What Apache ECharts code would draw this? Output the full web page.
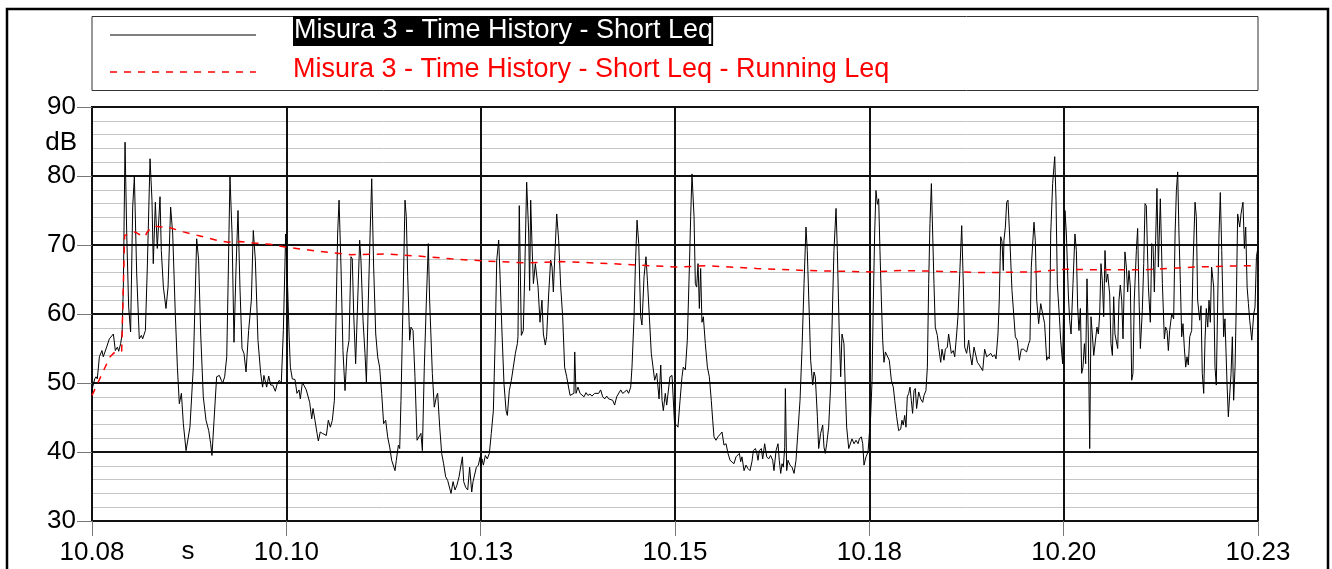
<!DOCTYPE html>
<html>
<head>
<meta charset="utf-8">
<title>Misura 3 - Time History</title>
<script src="https://cdn.jsdelivr.net/npm/echarts@6/dist/echarts.min.js"></script>
<style>
  html, body { margin: 0; padding: 0; background: #fff; }
  #chart { width: 1332px; height: 569px; }
</style>
</head>
<body>
<div id="chart"></div>
<script>
// x = seconds from the start of the record (10.08), y = dB
const timeLabels = ['10.08', '10.10', '10.13', '10.15', '10.18', '10.20', '10.23'];
const shortName = 'Misura 3 - Time History - Short Leq';
const runningName = 'Misura 3 - Time History - Short Leq - Running Leq';

const shortLeq = [
  [0,48.5],[0.5,49.4],[2.1,50.6],[3.1,50.9],[4.1,50.6],[5.7,53.8],[7.7,54.7],[8.7,53.8],[11.3,55.2],[13.4,56.4],[14.9,56.3],[16.5,57.1],[18,54.7],[19.6,55.2],[20.6,54.6],[22.1,55.7],[23.2,57.1],[24.2,63.9],[25.5,84.9],[26.8,71.6],[28.3,61],[29.8,57.4],[31.4,75.5],[32.7,79.9],[34.5,65.8],[36.5,56.4],[38.1,56.9],[39.1,56.4],[41.2,57.6],[42.7,66.8],[44.8,82.5],[46.3,76.5],[47.3,67.3],[48.9,76.2],[50.4,69.5],[52.5,77],[53.5,69.2],[55.1,63.9],[57.1,60.8],[58.7,63.9],[60.7,75.5],[62.3,71.6],[64.3,60],[65.9,52.3],[67.4,47],[69,48.5],[70.5,44.1],[72.6,40.2],[74.1,40.2],[75.6,43.6],[78.2,52.3],[80.8,70.9],[82.3,67.8],[83.9,57.1],[85.9,48],[88,44.6],[90.1,43.1],[91.6,41.2],[92.6,39.5],[94.2,44.6],[96.2,50.9],[98.3,51.1],[99.8,50.4],[100.9,50],[102.4,50.9],[104,53.8],[105,63.9],[106.5,79.9],[108.1,71.6],[109.6,55.9],[111.2,66.8],[112.7,75],[114.2,63.9],[115.8,55],[117.3,54.3],[118.9,51.6],[120.9,57.6],[123,62],[124.5,72.1],[126.1,67.8],[128.1,56.2],[130.2,51.4],[131.7,49.4],[132.7,51.1],[134.8,49.4],[136.4,51],[137.9,49.7],[139.5,49.7],[141.5,48.8],[143.1,50],[144.6,50.4],[146.1,49.9],[147.7,57.6],[149.5,71.6],
  [151,63.9],[152.1,57.1],[153.1,52.3],[154.6,50.6],[156.7,50.5],[158.2,48.5],[159.8,49],[160.8,47.7],[162.4,50.1],[163.9,49.9],[165.4,49],[166.5,48.8],[168,47.2],[169.6,44.8],[170.6,46.3],[172.1,44.6],[173.7,42.7],[174.7,41.6],[176.2,42.9],[177.8,42.7],[179.3,42.7],[180.9,42.4],[182.4,44.6],[184,43.6],[185.5,44.6],[187.1,47.5],[188.1,57.1],[189.6,71.6],[190.7,76.5],[192.2,66.8],[193.7,54.7],[195.3,48.9],[196.8,54.3],[198.4,56.2],[199.9,68.3],[200.9,68],[202,60],[203.5,52.8],[205.1,62],[206.6,70.7],[207.6,67.8],[209.2,59.1],[210.7,54.3],[211.8,50.1],[213.3,62],[214.8,72.6],[215.9,79.6],[217.4,66.8],[219,57.1],[220.5,53.8],[222,52.3],[223.6,48.5],[225.1,44.1],[226.7,44.6],[228.2,42.2],[229.8,40.7],[231.3,38.8],[233.9,37.3],[234.9,38.8],[236.5,41],[237.5,40.5],[238.5,47.5],[240.1,62],[241.6,76.5],[242.6,74.1],[243.7,65.4],[245.2,56.2],[246.2,58.1],[247.8,57.6],[249.3,50.9],[250.9,41.7],[252.4,41.6],[253.9,42.7],[255,40.2],[256.5,52.3],[258.1,62],[259.6,70.2],[260.6,62],[262.7,51.4],[264.2,46.5],[265.8,48],[266.8,48.5],[268.4,43.6],[269.9,39.8],[271.4,38.3],[273,36.4],[274.5,35.9],[275.6,36.1],[277.1,34],[278.7,35.7],[280.2,34.5],[281.7,35.2],[283.3,36.4],[284.8,36.6],[285.9,39.3],[286.9,35.7],[288.4,34.9],[290,34.5],[291.5,37.8],[293.1,34.2],[294.1,35.7],[295.1,35.9],[296.7,37.8],[298.2,38.1],[299.7,39.3],
  [300,37.8],[301,39],[302.1,38.1],[303.6,39.5],[305.1,39],[306.7,39.8],[308.2,42.7],[309.8,46],[311.3,57.1],[312.4,67.8],[313.9,70.7],[314.9,65.8],[316.5,57.1],[318,49.9],[319.6,46],[320.6,45.3],[322.1,48.9],[323.7,50.4],[325.2,52.3],[326.8,54.3],[328.3,55.7],[328.8,56.7],[329.8,75.7],[331.4,56.9],[332.9,57.6],[334,65.8],[335.5,79.1],[337.1,71.6],[337.8,63.4],[338.6,76.5],[339.6,70.2],[340.7,64.4],[342.2,67.3],[343.2,67.3],[344.3,63.9],[345.8,58.8],[347.3,62],[348.4,57.1],[349.9,55.5],[350.9,56.7],[352.5,62.9],[354,67.8],[355.1,66.8],[356.1,63.2],[357.1,67.8],[358.7,74.5],[360.2,70.7],[361.8,63.9],[363.3,59.6],[364.8,52.3],[366.4,50.9],[367.4,50.9],[369,48.2],[370.5,48],[372,48.5],[372.6,54.5],[373.6,48.5],[375.1,49.4],[376.7,48.5],[378.2,48.7],[379.8,48],[381.3,48.6],[382.8,48.2],[384.4,48.4],[385.9,48.1],[388,48.5],[389.5,48.7],[391.1,48.5],[392.6,49],[394.2,48],[395.7,47.7],[397.3,48.1],[398.8,47.7],[400.3,47.5],[401.9,47.5],[403.4,46.8],[405,48],[406.5,48.2],[408.1,49],[409.6,48.5],[411.2,48.7],[412.7,49],[414.2,48.5],[415.8,49.4],[416.8,52.3],[418.4,59.6],[419.4,66.8],[420.7,73.6],[422,70.2],[423.5,59.6],[424.5,58.4],[426.1,65.4],[427.6,68.3],[428.7,64.9],[430.2,59.6],[431.7,54.3],[432.8,54.3],[434.3,50.4],[435.9,51.4],[436.9,51.4],[437.7,47.7],[439,52.6],[440,47.5],[441,46],[442.5,48.5],[443.6,46.8],[445.1,46.8],[446.1,50.9],[447.7,51.1],[449.7,43.9],
  [451.3,43.9],[452.3,43.6],[453.9,47.5],[455.4,50.9],[456.4,52.3],[458,51.9],[459.5,56.2],[461.1,66.8],[462.1,74.1],[463.1,80.3],[464.7,74.1],[465.7,64.4],[466.7,63.9],[467.8,67.3],[468.8,60.8],[469.8,66.6],[470.8,58.8],[471.9,59.6],[473.4,55.7],[475,52.3],[476.5,50.9],[478,47.5],[479.1,44.6],[480.1,42.2],[481.6,41.7],[483.2,42.2],[484.7,42.4],[486.3,42.9],[487.8,41],[489.4,41.2],[490.9,39.8],[492.5,38.8],[494,38.7],[495.5,38.3],[497.1,39.3],[498.6,39.2],[499.7,39.8],[500.7,38.6],[501.7,39.3],[503.3,37.3],[504.8,38.1],[506.3,37.6],[507.9,37.3],[509.4,38.6],[510.5,40.2],[512,40.5],[513,40],[514.1,38.8],[515.1,40.2],[516.6,40.5],[517.7,39],[519.2,41.2],[520.8,39.3],[522.3,39],[523.8,39.5],[525.4,38.8],[526.4,37.3],[528,40.2],[529.5,41.2],[530.5,38.8],[531.6,36.9],[532.6,38.3],[533.6,37.8],[534.7,40.7],[535.2,49.2],[536.2,37.3],[537.2,38.8],[538.8,38.1],[540.3,37.8],[541.9,36.9],[543.4,38.8],[544.9,39],[546.5,47.5],[548,54.7],[549.6,64.4],[551.1,72.6],[552.1,69.2],[553.7,59.6],[554.7,53.3],[556.3,49.7],[557.3,51.6],[558.3,50.9],[559.9,45.1],[560.9,40.5],[562.4,42.7],[564,43.9],[565,40.7],[566,39.8],[567.1,41.2],[568.6,43.6],[570.2,49.9],[571.7,62],[572.7,69.2],[574.3,75.3],[575.3,69.2],[576.8,57.1],[577.9,50.9],[578.9,57.1],[580.4,55.7],[581.5,48.9],[582.5,43.6],[584.1,40.5],[585.1,40.5],[586.6,41.9],[588.2,41.2],[589.7,41.7],[591.3,41.2],[592.3,41.9],[593.8,42.2],[594.9,41.2],[595.9,38.1],[597.4,39.3],[599,40],
  [600,40.2],[601,45.1],[602.1,50.4],[603.1,62],[604.1,71.6],[605.1,77.9],[606.2,75.9],[607.2,76.7],[608.2,69.2],[609.3,62],[610.3,56.2],[611.3,53],[612.4,54.5],[613.9,54.3],[615.4,53.3],[617,50.4],[618.5,49.4],[619.6,47.5],[621.1,45.1],[622.6,43.1],[624.2,43.3],[625.2,44.6],[626.2,43.9],[627.3,45.3],[628.3,43.6],[629.3,48],[630.4,48.5],[631.4,49.4],[632.4,47.5],[633.4,45.6],[634.5,48.9],[635.5,49.2],[636.5,46.3],[638.1,48.7],[639.6,47.7],[641.2,47.2],[642.2,48.2],[643.7,48.9],[644.8,52.3],[645.8,64.4],[646.8,73.1],[647.9,78.9],[648.9,71.6],[649.9,64.4],[650.9,58.1],[652.5,56.9],[653.5,55.2],[655.1,53],[656.1,54.9],[657.6,53.3],[658.7,54.9],[660.2,55.2],[661.2,57.1],[662.3,57.1],[663.3,54.3],[664.8,54.7],[665.9,53.8],[667.4,57.1],[668.4,59.6],[670,66.8],[671.3,72.8],[672.6,63.9],[673.6,55.2],[675.1,54.3],[676.7,56.2],[677.7,54.3],[679.2,52.6],[680.8,55.2],[682.3,55.2],[683.4,53],[684.9,52.6],[685.9,52.6],[687.5,51.8],[689,54.9],[690.6,53.8],[692.1,53.9],[693.7,54.3],[695.2,53.8],[696.7,54.1],[697.8,53.5],[699.3,57.1],[700.3,62],[701.4,71.2],[702.4,70.5],[703.4,66.3],[703.9,70.7],[705,72.6],[706,76.2],[707,76.5],[708.6,70.2],[710.1,63.4],[711.2,63.2],[712.7,56.7],[714.2,56.2],[715.8,53.3],[717.3,54.9],[718.9,54.9],[720.4,54.7],[721.4,54.5],[723,55.7],[724,56.2],[725,66.8],[726.1,66.8],[727.1,73.3],[728.1,70.7],[729.2,62],[730.7,58.6],[732.3,61.5],[733.8,60],[735.3,58.6],[736.9,53.3],[737.9,53.8],[738.9,53.5],[740,71.6],[741.5,78.9],[743.1,82.8],[744.1,76.5],[745.1,64.4],[746.7,59.6],[747.7,56.2],[749.2,52.8],[750.4,66.3],
  [751,75],[752.1,71.6],[753.6,62.9],[754.6,59.1],[755.7,57.1],[757.2,64.4],[758.7,71.6],[759.8,69.2],[760.8,61],[761.8,57.6],[762.9,60.8],[763.9,51.4],[764.9,52.3],[766,55.7],[767,52.8],[768,65.1],[769,57.1],[770.1,40.5],[771.1,59.6],[772.1,57.1],[773.2,54],[774.7,53.8],[775.7,58.1],[776.8,57.1],[777.8,60],[778.8,67.3],[779.8,64.9],[780.9,59.6],[781.9,69.2],[782.9,64.6],[784,65.8],[785.5,62.9],[786.5,55.7],[787.6,54],[788.6,62.5],[789.6,57.1],[790.7,56.9],[791.7,55],[792.7,62],[793.7,64.2],[794.8,62],[795.8,56.4],[797.3,69],[798.4,66.8],[799.4,63.2],[800.4,66.3],[801.5,63.9],[802.5,50.4],[803.5,51.4],[804.5,62],[806.1,69.2],[807.1,72.4],[808.2,62],[809.2,55],[810.7,60.5],[811.8,67.3],[812.8,76],[813.8,75.7],[815.4,63.9],[816.9,58.8],[818,70.2],[819,69.9],[820,63.2],[821,70.7],[822,78.2],[823.1,66.8],[824.6,76.7],[826.2,64.4],[827.7,56.4],[828.7,58.1],[829.8,57.6],[830.8,54.7],[831.8,57.6],[833.4,60],[834.9,59.3],[836,71.6],[837,77.9],[838,80.6],[839,71.6],[840.1,64.4],[841.1,56.7],[842.1,58.6],[843.1,55.2],[844.2,52.3],[845.2,53.8],[846.2,52.6],[847.3,56.7],[848.8,57.6],[849.8,66.8],[851.4,76.2],[852.4,74.1],[853.4,62],[855,59.1],[856,61.2],[857,51.4],[858.1,48.5],[859.1,56.2],[860.1,60.8],[861.2,58.1],[862.2,62],[863.2,58.8],[864.2,66.8],[865.8,63.9],[866.8,52.3],[867.8,49.7],[868.9,62],[869.9,71.6],[870.9,77.6],[872,69.2],[873.5,56.7],[874.5,59.3],[876.1,49.9],[877.1,45.1],[878.1,44.9],[879.2,51.4],[880.2,56.7],[881.2,47.5],[882.3,52.3],[883.3,62],[884.3,74.5],[885.9,72.6],[886.9,74.5],[888.4,76.2],[889.5,69.5],[890.5,72.6],[891.6,63.9],[892.6,61.5],[893.6,59.1],[895.2,56.2],[896.7,60],[897.7,61],[898.8,68.3],[900,69.7]
];

const runningLeq = [
  [0,48.2],[13.9,53.8],[17.8,54.5],[22.9,54.6],[25.2,71.4],[29.3,71.6],[33.2,71.9],[35.8,71.6],[40.9,71.2],[42.7,71.9],[46.1,72.6],[49.9,72.7],[53.8,72.6],[60.2,72.5],[70.5,71.9],[83.4,71.3],[96.2,70.7],[105.2,70.4],[114.2,70.5],[124.5,70.3],[137.4,70.1],[149.2,69.7],
  [174.2,69.1],[199.9,68.6],[225.6,68.7],[251.4,68.4],[277.1,68],[301.3,67.7],[336.5,67.4],[362.3,67.6],[400.9,67.3],[451.3,66.8],
  [474.4,67],[513,66.6],[551.6,66.3],[602.1,66.1],[624.2,66.3],[649.9,66.2],[688.5,66],[727.1,66.1],[751.8,66.5],
  [773.7,66.4],[812.3,66.4],[850.9,66.8],[889.5,67],[900,67]
];

const FONT = 'Liberation Sans, Arial, sans-serif';

const chart = echarts.init(document.getElementById('chart'));

chart.setOption({
  animation: false,
  backgroundColor: '#fff',
  grid: {
    left: 92, right: 74, top: 107, bottom: 48,
    show: true, borderColor: '#000', borderWidth: 2, backgroundColor: 'transparent'
  },
  xAxis: {
    type: 'value',
    min: 0, max: 900, interval: 150,
    axisLine: { show: false },
    axisTick: { show: true, length: 15, lineStyle: { color: '#777', width: 1 } },
    axisLabel: {
      margin: 19, color: '#000', fontFamily: FONT, fontSize: 26,
      formatter: (v) => timeLabels[Math.round(v / 150)]
    },
    splitLine: { show: true, lineStyle: { color: '#111', width: 2 } }
  },
  yAxis: {
    type: 'value',
    min: 30, max: 90, interval: 10,
    axisLine: { show: false },
    axisTick: { show: true, length: 15, lineStyle: { color: '#777', width: 1 } },
    axisLabel: { margin: 16, color: '#000', fontFamily: FONT, fontSize: 26, padding: [5, 0, 0, 0] },
    splitLine: { show: true, lineStyle: { color: '#111', width: 2 } },
    minorTick: { show: false, splitNumber: 5 },
    minorSplitLine: { show: true, lineStyle: { color: '#c4c4c4', width: 1 } }
  },
  series: [
    {
      name: shortName,
      type: 'line',
      data: shortLeq,
      symbol: 'none',
      z: 3,
      lineStyle: { color: '#000', width: 1 }
    },
    {
      name: runningName,
      type: 'line',
      data: runningLeq,
      symbol: 'none',
      z: 4,
      lineStyle: { color: '#ff0000', width: 1.5, type: [7, 7] }
    }
  ],
  graphic: [
    { type: 'rect', z: 10, shape: { x: 7, y: 9, width: 1321, height: 620 },
      style: { fill: 'none', stroke: '#000', lineWidth: 2.5 } },
    { type: 'rect', z: 10, shape: { x: 92, y: 16.5, width: 1166, height: 74 },
      style: { fill: 'none', stroke: '#333', lineWidth: 1 } },
    { type: 'line', z: 10, shape: { x1: 110, y1: 35, x2: 256, y2: 35 },
      style: { stroke: '#000', lineWidth: 1 } },
    { type: 'line', z: 10, shape: { x1: 110, y1: 72, x2: 256, y2: 72 },
      style: { stroke: '#ff0000', lineWidth: 1.5, lineDash: [7, 7] } },
    { type: 'text', z: 10, x: 293, y: 31,
      style: { text: shortName, font: '27px ' + FONT, fill: '#fff', backgroundColor: '#000',
               padding: [2, 0, 1, 1], verticalAlign: 'middle', align: 'left' } },
    { type: 'text', z: 10, x: 293, y: 70,
      style: { text: runningName, font: '27px ' + FONT, fill: '#ff0000',
               verticalAlign: 'middle', align: 'left' } },
    { type: 'text', z: 10, x: 77, y: 143,
      style: { text: 'dB', font: '26px ' + FONT, fill: '#000', verticalAlign: 'middle', align: 'right' } },
    { type: 'text', z: 10, x: 188, y: 552,
      style: { text: 's', font: '26px ' + FONT, fill: '#000', verticalAlign: 'middle', align: 'center' } }
  ]
});
</script>
</body>
</html>
